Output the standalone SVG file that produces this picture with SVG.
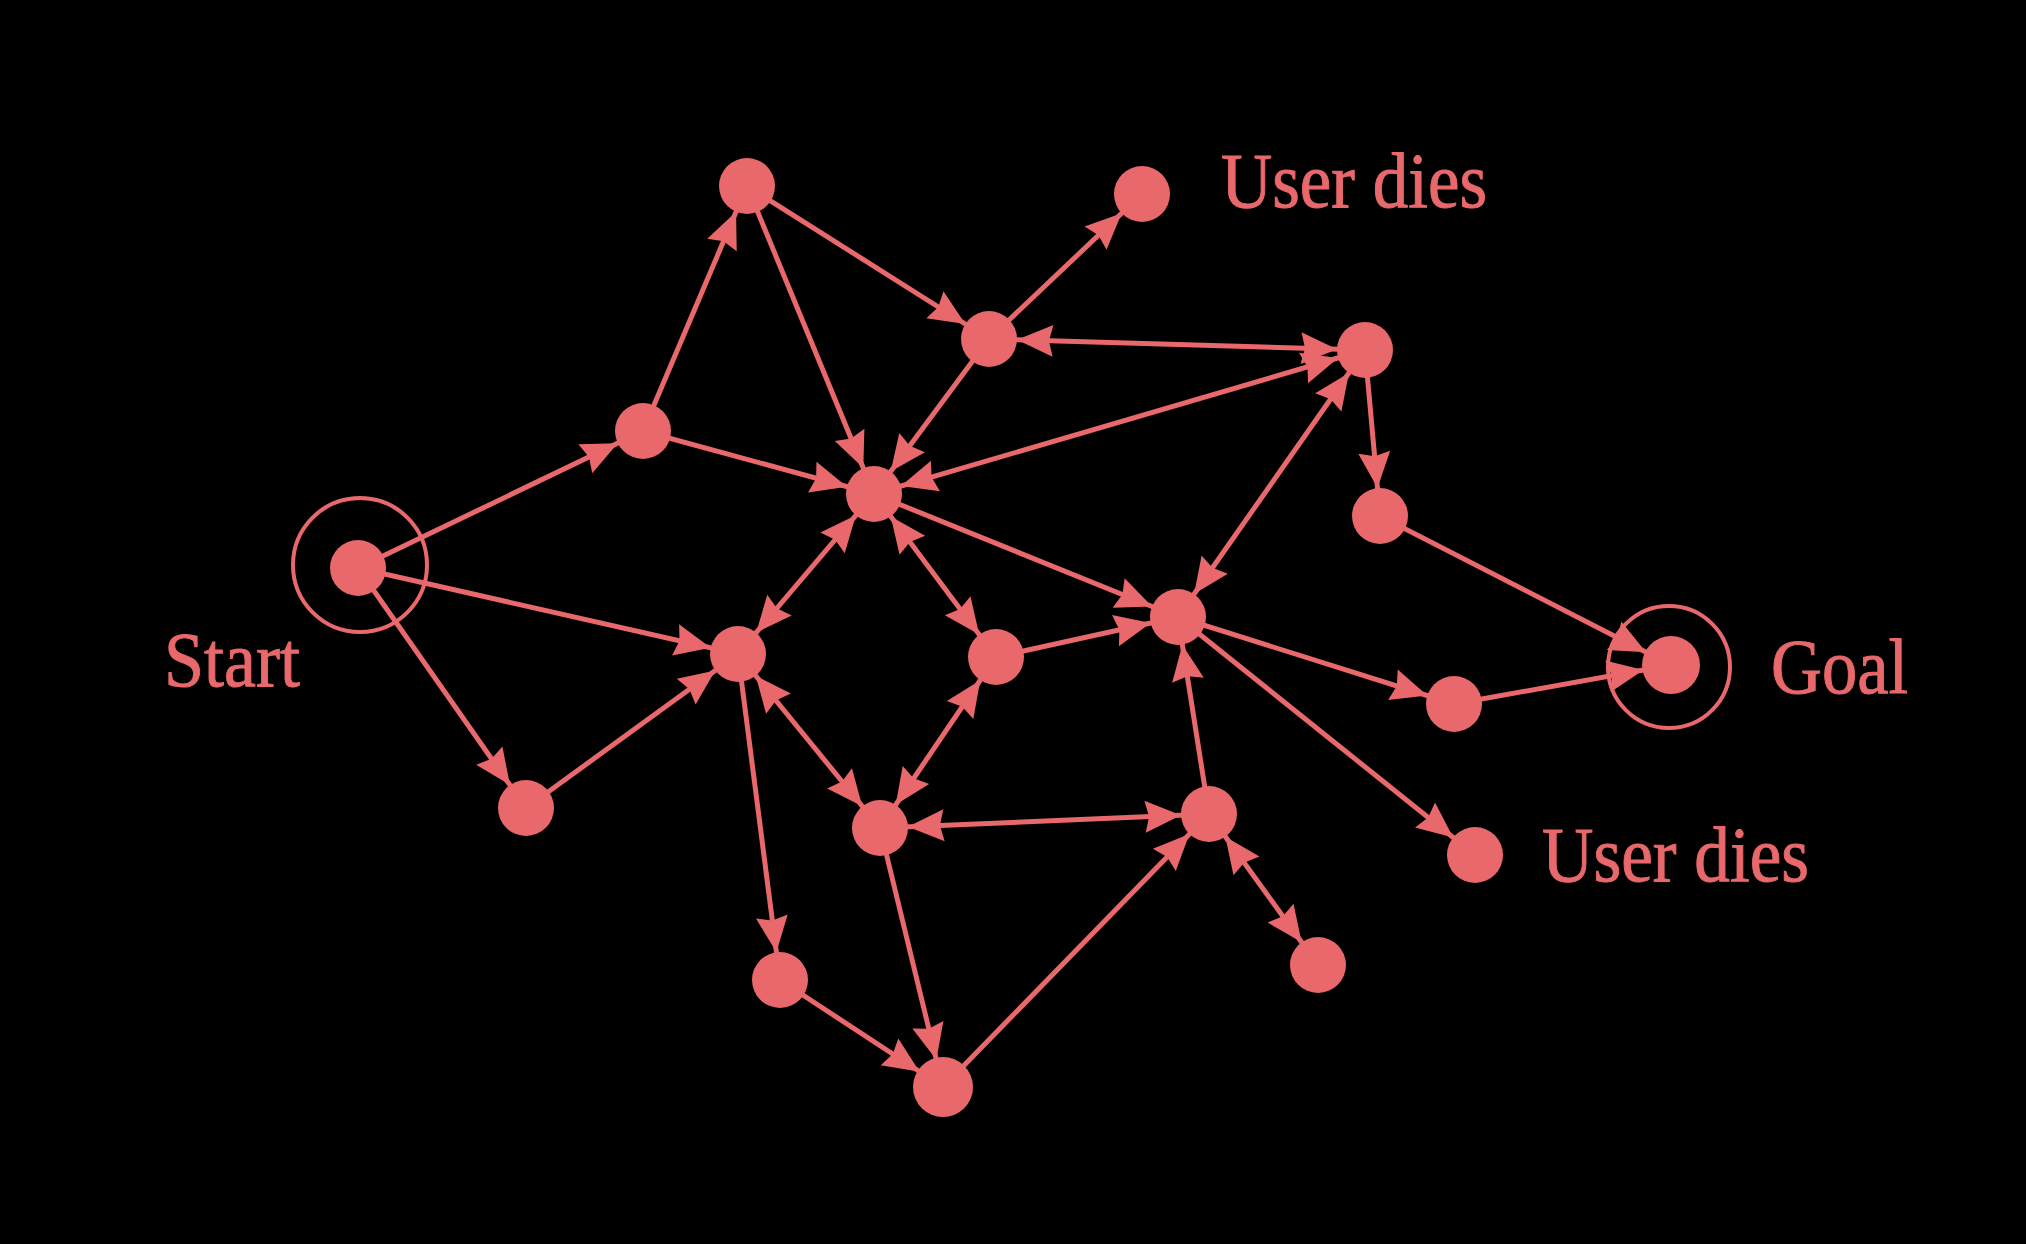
<svg xmlns="http://www.w3.org/2000/svg" width="2026" height="1244" viewBox="0 0 2026 1244">
<style>
.bg{fill:#000}
.n{fill:#E8686B}
.ring{fill:none;stroke:#E8686B;stroke-width:4}
.e{stroke:#E8686B;stroke-width:5;fill:none}
.a{marker-end:url(#ah)}
.b{marker-start:url(#ah);marker-end:url(#ah)}
.t{fill:#E8686B;stroke:#E8686B;stroke-width:1;font-family:"Liberation Serif","Times New Roman",serif;font-size:78px}
</style>
<defs>
<marker id="ah" markerUnits="userSpaceOnUse" orient="auto-start-reverse" markerWidth="72" markerHeight="36" refX="64" refY="17" overflow="visible">
<path d="M36,17 L0,1 L4,17 L0,33 Z" fill="#E8686B"/>
</marker>
</defs>
<rect class="bg" x="0" y="0" width="2026" height="1244"/>
<g id="connectors">
<line class="e a" x1="358" y1="568" x2="643" y2="431"/>
<line class="e a" x1="358" y1="568" x2="738" y2="654"/>
<line class="e a" x1="358" y1="568" x2="526" y2="808"/>
<line class="e a" x1="526" y1="808" x2="738" y2="654"/>
<line class="e a" x1="643" y1="431" x2="747" y2="186"/>
<line class="e a" x1="643" y1="431" x2="874" y2="494"/>
<line class="e a" x1="747" y1="186" x2="989" y2="339"/>
<line class="e a" x1="747" y1="186" x2="874" y2="494"/>
<line class="e a" x1="989" y1="339" x2="1142" y2="194"/>
<line class="e b" x1="989" y1="339" x2="1365" y2="350"/>
<line class="e a" x1="989" y1="339" x2="874" y2="494"/>
<line class="e b" x1="1365" y1="350" x2="874" y2="494"/>
<line class="e b" x1="1365" y1="350" x2="1178" y2="617"/>
<line class="e a" x1="1365" y1="350" x2="1380" y2="516"/>
<line class="e a" x1="1380" y1="516" x2="1671" y2="665"/>
<line class="e b" x1="874" y1="494" x2="738" y2="654"/>
<line class="e b" x1="874" y1="494" x2="996" y2="657"/>
<line class="e a" x1="874" y1="494" x2="1178" y2="617"/>
<line class="e a" x1="996" y1="657" x2="1178" y2="617"/>
<line class="e b" x1="738" y1="654" x2="880" y2="828"/>
<line class="e b" x1="996" y1="657" x2="880" y2="828"/>
<line class="e a" x1="738" y1="654" x2="780" y2="980"/>
<line class="e a" x1="780" y1="980" x2="943" y2="1087"/>
<line class="e a" x1="880" y1="828" x2="943" y2="1087"/>
<line class="e a" x1="943" y1="1087" x2="1209" y2="814"/>
<line class="e b" x1="1209" y1="814" x2="880" y2="828"/>
<line class="e a" x1="1209" y1="814" x2="1178" y2="617"/>
<line class="e b" x1="1209" y1="814" x2="1318" y2="965"/>
<line class="e a" x1="1178" y1="617" x2="1454" y2="704"/>
<line class="e a" x1="1178" y1="617" x2="1475" y2="855"/>
<line class="e a" x1="1454" y1="704" x2="1671" y2="665"/>
</g>
<g id="start"><circle class="ring" cx="360" cy="565" r="67"/><circle class="n" cx="358" cy="568" r="28"/><text class="t" x="164" y="686" textLength="136" lengthAdjust="spacingAndGlyphs">Start</text></g>
<g id="nA"><circle class="n" cx="643" cy="431" r="28"/></g>
<g id="nB"><circle class="n" cx="747" cy="186" r="28"/></g>
<g id="nC"><circle class="n" cx="1142" cy="194" r="28"/><text class="t" x="1221" y="207" textLength="266" lengthAdjust="spacingAndGlyphs">User dies</text></g>
<g id="nD"><circle class="n" cx="989" cy="339" r="28"/></g>
<g id="nE"><circle class="n" cx="1365" cy="350" r="28"/></g>
<g id="nF"><circle class="n" cx="874" cy="494" r="28"/></g>
<g id="nG"><circle class="n" cx="738" cy="654" r="28"/></g>
<g id="nH"><circle class="n" cx="996" cy="657" r="28"/></g>
<g id="nI"><circle class="n" cx="1178" cy="617" r="28"/></g>
<g id="nJ"><circle class="n" cx="1380" cy="516" r="28"/></g>
<g id="goal"><circle class="ring" cx="1669" cy="667" r="61"/><circle class="n" cx="1671" cy="665" r="29"/><text class="t" x="1771" y="693" textLength="137" lengthAdjust="spacingAndGlyphs">Goal</text></g>
<g id="nK"><circle class="n" cx="1454" cy="704" r="28"/></g>
<g id="nL"><circle class="n" cx="1475" cy="855" r="28"/><text class="t" x="1542" y="881" textLength="267" lengthAdjust="spacingAndGlyphs">User dies</text></g>
<g id="nM"><circle class="n" cx="526" cy="808" r="28"/></g>
<g id="nN"><circle class="n" cx="880" cy="828" r="28"/></g>
<g id="nO"><circle class="n" cx="1209" cy="814" r="28"/></g>
<g id="nP"><circle class="n" cx="1318" cy="965" r="28"/></g>
<g id="nQ"><circle class="n" cx="780" cy="980" r="28"/></g>
<g id="nR"><circle class="n" cx="943" cy="1087" r="30"/></g>
</svg>
